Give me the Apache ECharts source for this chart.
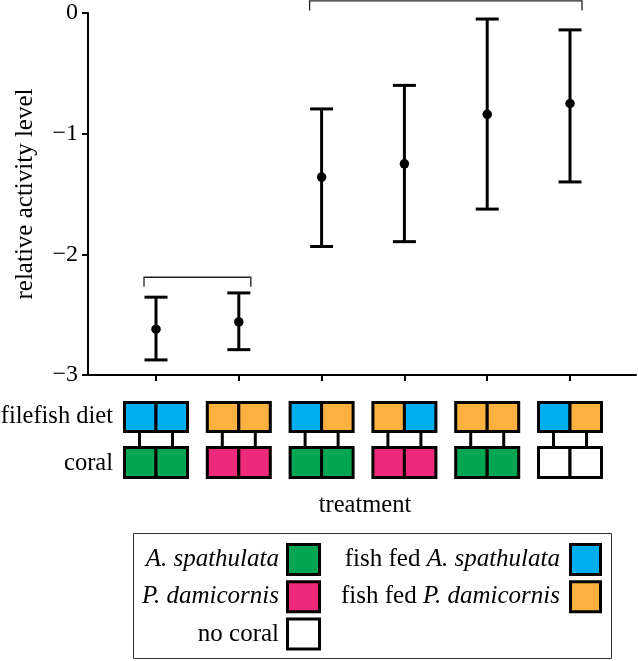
<!DOCTYPE html>
<html><head><meta charset="utf-8">
<script src="https://cdn.jsdelivr.net/npm/echarts@6/dist/echarts.min.js"></script>
<style>html,body{margin:0;padding:0;background:#fff}#c{width:638px;height:661px}</style>
</head><body><div id="c"></div>
<script>
// ---- data ----
const treatments = [1, 2, 3, 4, 5, 6];
const means = [-2.62, -2.56, -1.36, -1.25, -0.84, -0.75];
const lower = [-2.875, -2.79, -1.935, -1.895, -1.625, -1.40];
const upper = [-2.355, -2.32, -0.795, -0.60, -0.05, -0.14];
const yTicks = [0, -1, -2, -3];
const brackets = [[1, 2, -2.19], [3, 6, 0.1]];
const dietRow = [['A','A'], ['P','P'], ['A','P'], ['P','A'], ['P','P'], ['A','P']];
const coralRow = [['A','A'], ['P','P'], ['A','A'], ['P','P'], ['A','A'], ['N','N']];
const coralColors = { A: '#00A651', P: '#EC297B', N: '#FFFFFF' };
const dietColors = { A: '#00AEEF', P: '#FBB040' };
const legendCoral = [['A. spathulata', 'A', true], ['P. damicornis', 'P', true], ['no coral', 'N', false]];
const legendDiet = [['A. spathulata', 'A'], ['P. damicornis', 'P']];
const yName = 'relative activity level';
const xName = 'treatment';
const rowLabels = ['filefish diet', 'coral'];

const FONT = '"Liberation Serif", "DejaVu Serif", serif';
const chart = echarts.init(document.getElementById('c'), null, { renderer: 'canvas' });

function txt(text, x, y, align, size, italic) {
  return {
    type: 'text',
    style: {
      text: text, x: x, y: y,
      font: (italic ? 'italic ' : '') + size + 'px ' + FONT, fill: '#000',
      align: align, textAlign: align,
      verticalAlign: 'middle', textVerticalAlign: 'middle'
    }
  };
}
function sq(x, y, w, h, color) {
  return { type: 'rect', shape: { x: x, y: y, width: w, height: h },
    style: { fill: color, stroke: '#000', lineWidth: 3 } };
}

const graphics = [
  txt(rowLabels[0], 113, 417, 'right', 24.5),
  txt(rowLabels[1], 113, 464, 'right', 24.5),
  txt(xName, 365, 506, 'center', 24.5),
  { type: 'rect', shape: { x: 133.5, y: 533.5, width: 478, height: 125 },
    style: { fill: 'none', stroke: '#333', lineWidth: 1 } }
];
legendCoral.forEach((d, i) => {
  const cy = 559.5 + i * 37.3;
  graphics.push(txt(d[0], 279, cy, 'right', 25, d[2]));
  graphics.push(sq(287.5, cy - 15, 32, 30, coralColors[d[1]]));
});
legendDiet.forEach((d, i) => {
  const cy = 559.5 + i * 37.3;
  graphics.push({
    type: 'text',
    style: {
      text: '{n|fish fed }{i|' + d[0] + '}', x: 560, y: cy,
      align: 'right', textAlign: 'right', verticalAlign: 'middle', textVerticalAlign: 'middle',
      font: '25px ' + FONT, fill: '#000',
      rich: { n: { font: '25px ' + FONT, fill: '#000' }, i: { font: 'italic 25px ' + FONT, fill: '#000' } }
    }
  });
  graphics.push(sq(570.5, cy - 15, 30, 30, dietColors[d[1]]));
});

const option = {
  animation: false,
  backgroundColor: '#fff',
  grid: { left: 88, top: 13, right: 2, bottom: 286, containLabel: false },
  xAxis: {
    type: 'value', min: 0.1787, max: 6.797,
    axisLine: { show: true, onZero: false, lineStyle: { color: '#000', width: 2 } },
    axisTick: { show: true, customValues: treatments, length: 6, lineStyle: { color: '#000', width: 2 } },
    axisLabel: { show: false },
    splitLine: { show: false }
  },
  yAxis: {
    type: 'value', min: -3, max: 0, interval: 1,
    name: yName, nameLocation: 'middle', nameGap: 50, nameRotate: 90,
    nameTextStyle: { fontFamily: FONT, fontSize: 25, color: '#000' },
    axisLine: { show: true, onZero: false, lineStyle: { color: '#000', width: 2 } },
    axisTick: { show: true, length: 6, lineStyle: { color: '#000', width: 2 } },
    axisLabel: { margin: 10, fontFamily: FONT, fontSize: 24, color: '#000',
      formatter: v => String(v).replace('-', '\u2212') },
    splitLine: { show: false }
  },
  graphic: graphics,
  series: [
    {
      type: 'custom', name: 'brackets', clip: false, silent: true, z: 3,
      data: brackets,
      renderItem: (params, api) => {
        const a = api.coord([api.value(0), api.value(2)]);
        const b = api.coord([api.value(1), api.value(2)]);
        const pad = 12, leg = 9.5;
        return { type: 'polyline',
          shape: { points: [[a[0] - pad, a[1] + leg], [a[0] - pad, a[1]], [b[0] + pad, b[1]], [b[0] + pad, b[1] + leg]] },
          style: { stroke: '#222', lineWidth: 1.3, fill: 'none' } };
      }
    },
    {
      type: 'custom', name: 'errors', clip: false, silent: true, z: 4,
      data: treatments.map((t, i) => [t, lower[i], upper[i]]),
      renderItem: (params, api) => {
        const lo = api.coord([api.value(0), api.value(1)]);
        const hi = api.coord([api.value(0), api.value(2)]);
        const w = 11.5, st = { stroke: '#000', lineWidth: 3 };
        return { type: 'group', children: [
          { type: 'line', shape: { x1: lo[0], y1: lo[1], x2: hi[0], y2: hi[1] }, style: st },
          { type: 'line', shape: { x1: lo[0] - w, y1: lo[1], x2: lo[0] + w, y2: lo[1] }, style: st },
          { type: 'line', shape: { x1: hi[0] - w, y1: hi[1], x2: hi[0] + w, y2: hi[1] }, style: st }
        ] };
      }
    },
    {
      type: 'scatter', name: 'mean', z: 5, silent: true,
      symbol: 'circle', symbolSize: 9.5,
      itemStyle: { color: '#000', opacity: 1 },
      data: treatments.map((t, i) => [t, means[i]])
    },
    {
      type: 'custom', name: 'icons', clip: false, silent: true, z: 2,
      data: treatments.map((t, i) => [t, -3, i]),
      renderItem: (params, api) => {
        const idx = api.value(2);
        const p = api.coord([api.value(0), api.value(1)]);
        const cx = p[0], by = p[1];
        const hw = 31.5;
        const d = dietRow[idx], c = coralRow[idx];
        const rect = (x, y, w, h, col) => ({ type: 'rect', shape: { x: x, y: y, width: w, height: h },
          style: { fill: col, stroke: '#000', lineWidth: 3 } });
        const ln = (x) => ({ type: 'line', shape: { x1: x, y1: by + 58, x2: x, y2: by + 71 },
          style: { stroke: '#000', lineWidth: 3 } });
        return { type: 'group', children: [
          ln(cx - 16.5), ln(cx + 16.5),
          rect(cx - hw, by + 27.5, hw, 29, dietColors[d[0]]),
          rect(cx, by + 27.5, hw, 29, dietColors[d[1]]),
          rect(cx - hw, by + 72.5, hw, 30, coralColors[c[0]]),
          rect(cx, by + 72.5, hw, 30, coralColors[c[1]])
        ] };
      }
    }
  ]
};
chart.setOption(option);
</script>
</body></html>
